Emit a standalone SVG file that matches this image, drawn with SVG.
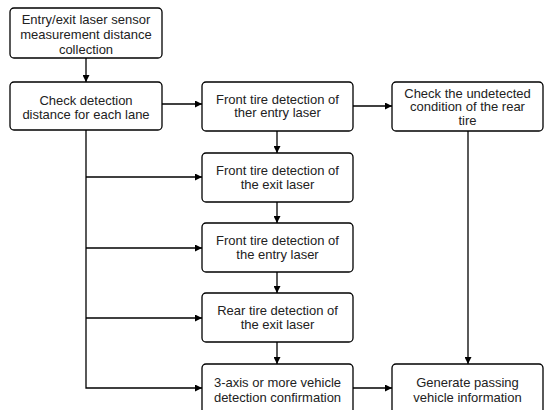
<svg xmlns="http://www.w3.org/2000/svg" width="545" height="410" viewBox="0 0 545 410">
<style>
.box{fill:#fff;stroke:#000;stroke-width:1.3}
.t{font-family:"Liberation Sans",Arial,sans-serif;font-size:13px;fill:#222;text-anchor:middle}
.c{fill:none;stroke:#000;stroke-width:1.3}
</style>
<defs>
<marker id="ah" viewBox="0 0 8 8" refX="8" refY="4" markerWidth="7" markerHeight="7" markerUnits="userSpaceOnUse" orient="auto">
<path d="M0,0 L8,4 L0,8 Z" fill="#000"/>
</marker>
</defs>
<rect width="545" height="410" fill="#fff"/>
<g id="connectors">
<path class="c" d="M86,58 V82" marker-end="url(#ah)"/>
<path class="c" d="M162,104 H202" marker-end="url(#ah)"/>
<path class="c" d="M353,106 H392" marker-end="url(#ah)"/>
<path class="c" d="M277,131 V153" marker-end="url(#ah)"/>
<path class="c" d="M277,202 V223" marker-end="url(#ah)"/>
<path class="c" d="M277,272 V293" marker-end="url(#ah)"/>
<path class="c" d="M277,342 V364" marker-end="url(#ah)"/>
<path class="c" d="M86,130 V388 H202" marker-end="url(#ah)"/>
<path class="c" d="M86,177 H202" marker-end="url(#ah)"/>
<path class="c" d="M86,248 H202" marker-end="url(#ah)"/>
<path class="c" d="M86,318 H202" marker-end="url(#ah)"/>
<path class="c" d="M353,388 H392" marker-end="url(#ah)"/>
<path class="c" d="M468,131 V364" marker-end="url(#ah)"/>
</g>
<g id="n1"><rect class="box" x="10" y="8" width="152" height="50" rx="4"/>
<text class="t" x="86" y="23.5">Entry/exit laser sensor</text>
<text class="t" x="86" y="38.5">measurement distance</text>
<text class="t" x="86" y="53.5">collection</text></g>
<g id="n2"><rect class="box" x="10" y="82" width="152" height="48" rx="4"/>
<text class="t" x="86" y="104.5">Check detection</text>
<text class="t" x="86" y="119">distance for each lane</text></g>
<g id="n3"><rect class="box" x="202" y="82" width="151" height="49" rx="4"/>
<text class="t" x="277.5" y="103.5">Front tire detection of</text>
<text class="t" x="277.5" y="117">ther entry laser</text></g>
<g id="n4"><rect class="box" x="392" y="82" width="151" height="49" rx="4"/>
<text class="t" x="467.5" y="97.5">Check the undetected</text>
<text class="t" x="467.5" y="111">condition of the rear</text>
<text class="t" x="467.5" y="124.5">tire</text></g>
<g id="n5"><rect class="box" x="202" y="153" width="151" height="49" rx="4"/>
<text class="t" x="277.5" y="174.5">Front tire detection of</text>
<text class="t" x="277.5" y="189">the exit laser</text></g>
<g id="n6"><rect class="box" x="202" y="223" width="151" height="49" rx="4"/>
<text class="t" x="277.5" y="244.5">Front tire detection of</text>
<text class="t" x="277.5" y="259">the entry laser</text></g>
<g id="n7"><rect class="box" x="202" y="293" width="151" height="49" rx="4"/>
<text class="t" x="277.5" y="314.5">Rear tire detection of</text>
<text class="t" x="277.5" y="329">the exit laser</text></g>
<g id="n8"><rect class="box" x="202" y="364" width="151" height="52" rx="4"/>
<text class="t" x="277.5" y="386.5">3-axis or more vehicle</text>
<text class="t" x="277.5" y="401.5">detection confirmation</text></g>
<g id="n9"><rect class="box" x="392" y="364" width="151" height="52" rx="4"/>
<text class="t" x="467.5" y="386.5">Generate passing</text>
<text class="t" x="467.5" y="401.5">vehicle  information</text></g>
</svg>
